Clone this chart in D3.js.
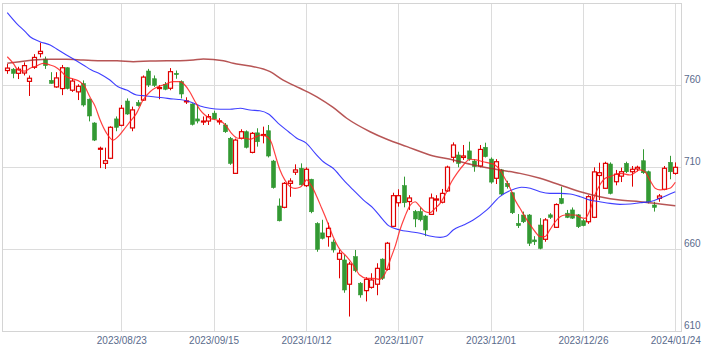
<!DOCTYPE html>
<html>
<head>
<meta charset="utf-8">
<script src="https://cdn.jsdelivr.net/npm/d3@7"></script>
<style>
  body { margin: 0; background: #fff; }
  svg { display: block; }
  .axis text { font-family: "Liberation Sans", Arial, sans-serif; font-size: 10px; fill: #5a6b8c; }
</style>
</head>
<body>
<div id="chart"></div>
<script>
// Daily candles, one per trading day (index 0 .. 123)
const opens  = [769,769.8,767.3,767.5,762.4,771,779.3,776,763,759,758,770.7,757,756,761,751.5,737,721,712.4,715.5,
  739.5,735.6,750.4,734,749.4,751,768.7,764,758,760.6,758.2,767.3,762.2,750,748.6,739.5,737.8,738.2,743,738,
  735.8,727.7,706.3,727.7,731.7,719.1,731,729.5,732.3,713.8,686.4,685.6,700.2,707,709.4,698.8,702.7,675.7,670,667.7,
  664.4,653.9,653.5,638.7,655.5,639.3,634.8,636.8,638.7,654,647.8,674,688.4,698.8,689.1,683,683,680.3,681.3,690,
  688.7,695.6,716.1,717.5,716,720,713.8,710.8,722.2,715,703.3,708.4,700.2,694.5,675.8,680.9,680.9,665.7,674.8,666.1,
  681,673.4,691,682,684,681,677.4,676.8,679.5,705,697.2,712,701.2,704.6,712.4,707.3,709,714,707.3,687,
  691.1,696.6,713,706.3];
const highs  = [773,770.5,771.3,774,766,779,786,777.5,768,768,772.4,771,764,760.6,763,752,737.5,722.6,722,735,
  741,748,752,747,751,766,770,766,760.2,762,770.5,769,763,752.7,749,748,741,742.5,744.5,740,
  737,728.5,727.5,733.2,732.5,731.5,733.8,734.8,735.8,714.5,691,701,703.3,711.8,712.4,710,703,676.5,678,676.2,
  666,659.6,656.5,652.4,659.6,640,643,645.4,651.5,654.5,664.5,694.5,696.6,704.3,693,684,685.6,681,694,693,
  696.8,711,725.2,719.5,723.6,725.6,715,723.6,725,716,715,709,701.8,695,681.5,683,681.5,668,679,679,
  682,688,698.2,684,685.5,681.5,678.5,693,710,712.8,713.4,713,708.4,709.8,713.4,710.8,711,721,708,689,
  693.7,710.8,717,713];
const lows   = [767,764.3,763.8,766,753.5,770,777,770,761,758.5,754,757.5,756,751,747,738,726,709.5,709,715,
  732,735,742,732,747,750.5,759,759,751.5,757,757,764,752,748.6,735.5,736.8,735.8,735.8,739,736,
  731,711.5,706,727,721.5,718.5,722.6,724.6,716,697,677,685,692,705.3,699,698,682,658.5,666,661.6,
  658,642.3,633.5,619,646,630.5,628.2,636,632,641.3,647,673.5,686,685.6,684,673.5,677,668,681,683,
  688,695,713,710,714.5,714,707.3,710,716,700,699.8,693,697,681.5,673,676,662,662.6,660,664.6,
  678.5,673,687.5,679,678.5,673,674,675.5,679,690,697,693.5,699,701,706.5,698.2,707.5,706,688,683,
  689,696,702.7,705.5];
const closes = [770.5,767.3,769.8,772,764.3,777,780.7,772,761.2,764.5,770.7,758,762.6,759.4,748,741.3,726.6,721.6,714,734.4,
  734.4,746,742.5,745,747.6,765,760.2,760,758.6,757.6,768.3,766.5,754.7,750.5,736.2,738.2,738.2,740.9,739.5,738.3,
  731.7,712.4,726.6,731.7,722.2,730.7,725.6,730,716.9,697.6,677.4,700.2,701.6,708.4,699.3,708.8,682.9,660,666.7,672.8,
  659.6,657.6,635.2,651,647,632.2,641.7,641.3,648.4,642.3,663.7,692.7,692.7,688.4,691.3,678.5,678,671.8,691.3,690.7,
  694.1,710.1,723.6,712.4,716.9,715,710.4,720.9,716.5,701,713.4,693.7,698.2,682.3,674.4,676.8,663.7,664.6,660.6,677.9,
  679.5,687.3,688,679.5,679,673.8,674.4,692.1,707.2,706.7,712.4,694.1,705.8,707.3,707.3,708.8,710,706.7,689,685.6,
  692.5,709.4,707.3,710];

// Moving averages: position (trading-day index) and value
const ma5At = [0,1.1,2,3.3,4.2,5.4,6.6,7.9,8.8,10,10.9,12.2,13.4,14.3,15.2,16.2,17.1,18.3,19.5,20.4,21.4,22.6,23.8,25,26.3,
  27.5,28.7,30.6,31.8,32.7,33.6,34.6,35.5,36.4,37.3,38.6,39.5,40.4,41.3,42.5,43.8,44.7,45.9,46.8,47.8,48.7,49.3,50.2,51.1,
  52.1,53,53.9,54.6,55.1,56.1,57,57.9,58.8,60,61.3,62.5,63.7,64.9,66.2,67.4,68.6,69.6,70.5,71.4,72.3,73.2,74.2,75.1,76,
  76.9,77.8,78.8,79.7,80.6,81.8,82.8,84,85.2,86.4,87.6,88.9,89.8,90.7,91.6,92.6,93.5,94.4,95.3,96.3,97.2,98.1,99,99.9,
  100.9,101.8,102.7,104.5,105.5,106.4,107.3,108.2,109.1,110.1,111,112.8,114.7,116.5,117.4,118.3,119.3,120.2,122,123];
const ma5 = [777.4,773.4,769.3,768.7,770.4,771.8,773.4,772.4,771.3,768.3,765.2,763.8,762.2,759.1,753,747,738.8,730.7,726.6,728.7,
  732.7,737.8,742.9,751,756.1,758.8,760.2,762.2,762.2,760.2,756.1,750,745,741.9,739.9,738.8,737.8,734.8,730.7,727.7,
  727.7,727.1,728.7,729.7,728.7,724.6,718,708.5,702.3,698.2,697.2,697.8,700.2,702.3,698.2,692.1,685,677.9,667.7,659.6,
  655.5,650.4,644.3,642.3,642.3,641.7,645.4,653.5,661.6,671.8,679.9,687,689,686,683,682.3,685,688,693.1,701.2,
  706.3,711.4,714.9,714.5,713.4,712.4,711.4,708.4,703.3,697.2,690,685,679.9,674.8,670.7,667.7,667.7,671.8,676.8,679.9,
  680.9,680.9,679.5,678.9,684,693.1,699.2,703.3,704.3,706.3,705.3,708.4,707.3,702.3,697.2,696.2,697.2,700.9];

const ma25At = [0,1.7,3.3,4.2,6,7.9,9.4,10.9,12.5,14,15.5,17.1,18.9,20.4,22,23.8,25,26.9,28.7,30.6,31.8,33.6,35.5,37.3,39.2,
  41,42.9,44.7,46.5,48.1,49.9,51.8,53.3,55.1,56.7,58.2,60,61.9,63.7,65.6,67.4,69.2,70.2,72.3,74.2,76,77.8,79.7,80.9,82.1,
  84,85.8,88.3,90.7,92.9,94.7,96.3,98.1,99.9,101.8,103.6,105.5,107.3,109.1,111,112.8,114.7,116.5,118.3,120.2,122,123];
const ma25 = [804.3,797.8,792.7,789.6,786.6,784.6,781.5,778.5,775.4,772.4,769.3,766.9,763.2,759.1,757.1,754.1,753.7,753,752.4,751.6,
  751.3,750,747.4,746,745.4,745.4,746,744.9,744.5,742.5,736.8,731.7,727.7,724.6,718.5,713.4,709.4,702.3,696.2,690,
  685,677.9,674.4,671.8,670.7,669.8,668.1,667.3,668.1,671.8,674.8,677.9,684,692.1,696.2,697.8,697.2,695.1,694.1,694.1,
  693.7,692.1,690,689,688,687.4,687.6,688.4,689,691.1,693.7,695.1];

const ma75At = [0,2.3,4.8,7.9,10.9,14,17.1,20.2,23.2,26.3,29.4,31.8,34.3,36.1,39.8,41.6,44.7,48.4,50.8,53.9,57,60,62.5,66.8,
  69.9,73.6,77.8,82.1,85.8,90.7,94.4,98.1,101.8,105.5,109.1,112.8,116.5,120.2,123];
const ma75 = [773.4,774.4,775.4,775.9,775.9,775.4,775,775,774.4,774.8,775,775,775.4,776,775,773.4,771.8,768.3,763.2,758.2,
  753,746.5,739.9,731.7,727.1,722.6,717.5,714.5,711.4,708.4,706.3,703.3,699.2,695.1,692.1,690,689,687.6,686.6];

// Axis ticks
const xTickIdx = [21, 38, 55, 72, 89, 106, 123];
const xTickLabels = ["2023/08/23", "2023/09/15", "2023/10/12", "2023/11/07", "2023/12/01", "2023/12/26", "2024/01/24"];
const yTicks = [610, 660, 710, 760];

const W = 720, H = 351;
const plot = { left: 2.5, top: 3.5, right: 681.5, bottom: 331.5 };

const svg = d3.select("#chart").append("svg")
  .attr("width", W)
  .attr("height", H);

const x = d3.scaleLinear().domain([0, 123]).range([7.25, 675.3]);
const y = d3.scaleLinear().domain([610, 760]).range([331.3, 85.3]);

// Grid
svg.append("g")
  .selectAll("line")
  .data(yTicks)
  .join("line")
  .attr("x1", plot.left).attr("x2", plot.right)
  .attr("y1", d => Math.round(y(d)) + 0.5).attr("y2", d => Math.round(y(d)) + 0.5)
  .attr("stroke", "#dcdcdc");

svg.append("g")
  .selectAll("line")
  .data(xTickIdx)
  .join("line")
  .attr("x1", d => Math.round(x(d)) + 0.5).attr("x2", d => Math.round(x(d)) + 0.5)
  .attr("y1", plot.top).attr("y2", plot.bottom)
  .attr("stroke", "#dcdcdc");

// Frame
svg.append("rect")
  .attr("x", plot.left).attr("y", plot.top)
  .attr("width", plot.right - plot.left)
  .attr("height", plot.bottom - plot.top)
  .attr("fill", "none")
  .attr("stroke", "#d4d4d4");

// Candles
const candles = d3.range(opens.length).map(i => ({
  i, o: opens[i], h: highs[i], l: lows[i], c: closes[i], up: closes[i] >= opens[i]
}));

const bodyW = 4;
const cg = svg.append("g");

cg.selectAll("line.wick")
  .data(candles)
  .join("line")
  .attr("class", "wick")
  .attr("x1", d => Math.round(x(d.i)) + 0.5)
  .attr("x2", d => Math.round(x(d.i)) + 0.5)
  .attr("y1", d => y(d.h))
  .attr("y2", d => y(d.l))
  .attr("stroke", d => d.up ? "#e00000" : "#339933")
  .attr("stroke-width", 1);

cg.selectAll("rect.body")
  .data(candles)
  .join("rect")
  .attr("class", "body")
  .attr("x", d => Math.round(x(d.i)) + 0.5 - bodyW / 2)
  .attr("y", d => y(Math.max(d.o, d.c)))
  .attr("width", bodyW)
  .attr("height", d => Math.max(1, Math.abs(y(d.o) - y(d.c))))
  .attr("fill", d => d.up ? "#fff" : "#339933")
  .attr("stroke", d => d.up ? "#e00000" : "#339933")
  .attr("stroke-width", d => d.up ? 1.2 : 0.6);

// Moving averages
function drawMA(at, vals, color, width, opacity) {
  const line = d3.line()
    .x((d, k) => x(at[k]))
    .y(d => y(d))
    .curve(d3.curveMonotoneX);
  svg.append("path")
    .datum(vals)
    .attr("d", line)
    .attr("fill", "none")
    .attr("stroke", color)
    .attr("stroke-width", width)
    .attr("stroke-opacity", opacity);
}

drawMA(ma75At, ma75, "#a52a2a", 1.5, 0.8);
drawMA(ma25At, ma25, "#2a2aff", 1.1, 0.9);
drawMA(ma5At, ma5, "#ff2020", 1.2, 0.85);

// Axes
const yAxis = svg.append("g")
  .attr("class", "axis")
  .attr("transform", `translate(${plot.right},0)`)
  .call(d3.axisRight(y).tickValues(yTicks).tickSize(0).tickPadding(2.5));
yAxis.select(".domain").remove();
yAxis.selectAll("text").attr("dy", "-0.3em");

const xAxis = svg.append("g")
  .attr("class", "axis")
  .attr("transform", `translate(0,${plot.bottom})`)
  .call(d3.axisBottom(x).tickValues(xTickIdx).tickSize(0).tickPadding(5.5)
    .tickFormat((d, k) => xTickLabels[k]));
xAxis.select(".domain").remove();
</script>
</body>
</html>
